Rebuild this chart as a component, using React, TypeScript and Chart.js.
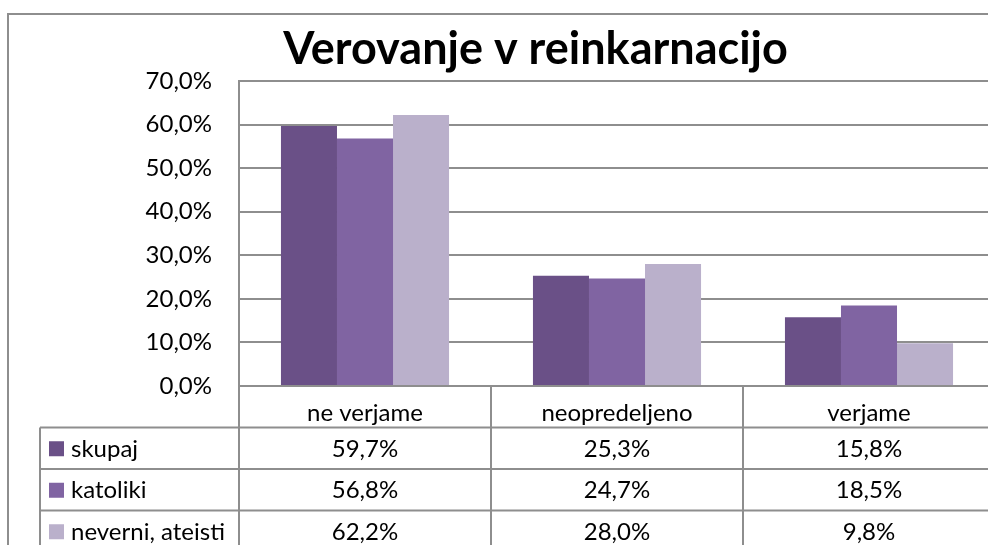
import React, { useEffect, useRef } from "react";
import { Chart, registerables } from "chart.js";

Chart.register(...registerables);

const TITLE = "Verovanje v reinkarnacijo";
const categories = ["ne verjame", "neopredeljeno", "verjame"];
const seriesNames = ["skupaj", "katoliki", "neverni, ateisti"];
const skupaj = [59.7, 25.3, 15.8];
const katoliki = [56.8, 24.7, 18.5];
const neverni = [62.2, 28.0, 9.8];
const seriesColors = ["#6A5087", "#8064A2", "#BAB0CB"];
const Y_MIN = 0;
const Y_MAX = 70;
const Y_STEP = 10;

const FONT = "Lato, 'Open Sans', sans-serif";
const GRID = "#8E8E8E";
const TXT = 24;

const fmt = (v: number) => v.toFixed(1).replace(".", ",") + "%";

const tablePlugin = {
  id: "dataTable",
  afterDraw(chart: any) {
    const { ctx, chartArea } = chart;
    const x = chart.scales.x;
    const left = chartArea.left;
    const right = chartArea.right;
    const bottom = chartArea.bottom;
    const n = categories.length;
    const cw = (right - left) / n;
    const rowH = 41.5;
    const headTop = bottom;
    const rowsTop = headTop + rowH;
    const tableLeft = 40;
    const H = chart.height;
    const series = [skupaj, katoliki, neverni];

    ctx.save();
    ctx.strokeStyle = GRID;
    ctx.lineWidth = 2;
    // outer chart border
    ctx.beginPath();
    ctx.moveTo(8, H + 5);
    ctx.lineTo(8, 14);
    ctx.lineTo(chart.width + 5, 14);
    ctx.stroke();

    // vertical dividers of table
    ctx.beginPath();
    for (let i = 0; i <= n; i++) {
      const px = left + i * cw;
      ctx.moveTo(px, headTop);
      ctx.lineTo(px, H + 5);
    }
    ctx.moveTo(tableLeft, rowsTop);
    ctx.lineTo(tableLeft, H + 5);
    for (let r = 0; r < series.length; r++) {
      const py = rowsTop + r * rowH;
      ctx.moveTo(tableLeft, py);
      ctx.lineTo(right, py);
    }
    ctx.stroke();

    // values and legend keys
    ctx.font = `${TXT}px ${FONT}`;
    ctx.fillStyle = "#000";
    ctx.textBaseline = "middle";
    for (let r = 0; r < series.length; r++) {
      const cy = rowsTop + r * rowH + rowH / 2 + 1;
      ctx.fillStyle = seriesColors[r];
      ctx.fillRect(49, cy - 8, 15, 15);
      ctx.fillStyle = "#000";
      ctx.textAlign = "left";
      ctx.fillText(seriesNames[r], 71, cy);
      ctx.textAlign = "center";
      for (let i = 0; i < n; i++) {
        ctx.fillText(fmt(series[r][i]), x.getPixelForValue(i), cy);
      }
    }

    // title
    ctx.font = `bold 45px ${FONT}`;
    ctx.textAlign = "center";
    ctx.textBaseline = "alphabetic";
    ctx.fillText(TITLE, 535.5, 64);
    ctx.restore();
  },
};

export default function App() {
  const ref = useRef<HTMLCanvasElement | null>(null);
  useEffect(() => {
    if (!ref.current) return;
    const chart = new Chart(ref.current, {
      type: "bar",
      data: {
        labels: categories,
        datasets: [skupaj, katoliki, neverni].map((d, i) => ({
          label: seriesNames[i],
          data: d,
          backgroundColor: seriesColors[i],
          borderWidth: 0,
          categoryPercentage: 0.667,
          barPercentage: 1,
        })),
      },
      options: {
        animation: false,
        responsive: false,
        devicePixelRatio: 1,
        layout: { padding: { left: 0, top: 81, right: 5, bottom: 0 } },
        plugins: {
          legend: { display: false },
          title: { display: false },
          tooltip: { enabled: false },
        },
        scales: {
          x: {
            grid: { display: false },
            border: { display: false },
            ticks: {
              font: { family: FONT, size: TXT },
              color: "#000",
              padding: 5,
              maxRotation: 0,
            },
            afterFit: (s: any) => {
              s.height = 174;
            },
          },
          y: {
            min: Y_MIN,
            max: Y_MAX,
            grid: { color: GRID, lineWidth: 2, drawTicks: false },
            border: { display: true, color: GRID, width: 2 },
            ticks: {
              stepSize: Y_STEP,
              font: { family: FONT, size: TXT },
              color: "#000",
              padding: 27,
              callback: (v: any) => fmt(Number(v)),
            },
            afterFit: (s: any) => {
              s.width = 239;
            },
          },
        },
      },
      plugins: [tablePlugin],
    });
    return () => chart.destroy();
  }, []);
  return (
    <div
      style={{
        position: "fixed",
        left: 0,
        top: 0,
        width: 988,
        height: 545,
        overflow: "hidden",
        background: "#fff",
      }}
    >
      <canvas ref={ref} width={1000} height={560} style={{ display: "block" }} />
    </div>
  );
}
